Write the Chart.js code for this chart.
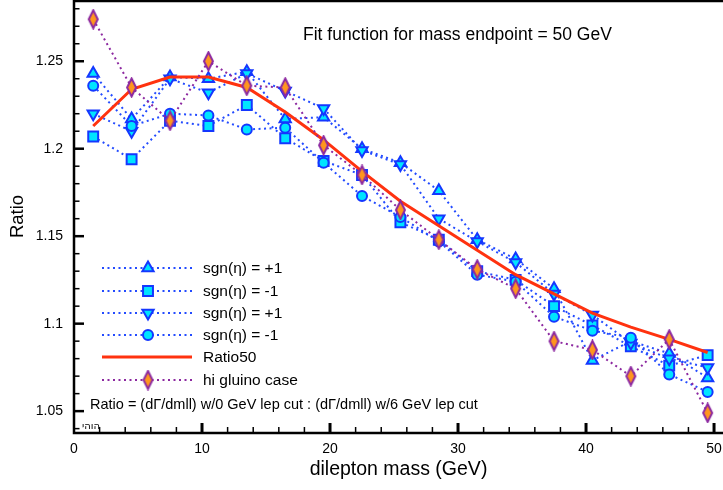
<!DOCTYPE html>
<html>
<head>
<meta charset="utf-8">
<script src="https://cdn.jsdelivr.net/npm/chart.js@4.4.1/dist/chart.umd.min.js"></script>
<style>
  html, body { margin: 0; padding: 0; background: #fff; }
  #wrap { width: 723px; height: 490px; }
</style>
</head>
<body>
<div id="wrap"><canvas id="ratioChart" width="723" height="490"></canvas></div>
<script>
// bin centres (GeV)
const massBins = [1.5, 4.5, 7.5, 10.5, 13.5, 16.5, 19.5, 22.5, 25.5, 28.5, 31.5, 34.5, 37.5, 40.5, 43.5, 46.5, 49.5];

// ratio values
const sgnPlusTri   = [1.243, 1.217, 1.241, 1.240, 1.244, 1.217, 1.218, 1.200, 1.192, 1.176, 1.148, 1.137, 1.120, 1.079, 1.090, 1.083, 1.069];
const sgnMinusSq   = [1.207, 1.194, 1.216, 1.213, 1.225, 1.206, 1.193, 1.185, 1.158, 1.148, 1.130, 1.125, 1.110, 1.099, 1.087, 1.076, 1.082];
const sgnPlusInv   = [1.220, 1.210, 1.240, 1.232, 1.243, 1.233, 1.223, 1.199, 1.191, 1.160, 1.147, 1.135, 1.117, 1.105, 1.089, 1.080, 1.075];
const sgnMinusCirc = [1.236, 1.213, 1.220, 1.219, 1.211, 1.212, 1.192, 1.173, 1.161, 1.147, 1.128, 1.124, 1.104, 1.096, 1.092, 1.071, 1.061];
const ratio50      = [1.213, 1.234, 1.241, 1.241, 1.235, 1.221, 1.205, 1.187, 1.170, 1.156, 1.142, 1.128, 1.117, 1.106, 1.098, 1.091, 1.0835];
const hiGluino     = [1.274, 1.235, 1.216, 1.250, 1.236, 1.235, 1.202, 1.185, 1.165, 1.148, 1.131, 1.120, 1.090, 1.085, 1.070, 1.091, 1.049];

const seriesNames = ['sgn(\u03B7) = +1', 'sgn(\u03B7) = -1', 'sgn(\u03B7) = +1', 'sgn(\u03B7) = -1', 'Ratio50', 'hi gluino case'];

const xTicks = [0, 10, 20, 30, 40, 50];
const yTicks = [1.05, 1.1, 1.15, 1.2, 1.25];
const yTickLabels = ['1.05', '1.1', '1.15', '1.2', '1.25'];

const titleText = 'Fit function for mass endpoint = 50 GeV';
const noteText = 'Ratio = (d\u0393/dmll) w/0 GeV lep cut : (d\u0393/dmll) w/6 GeV lep cut';
// small mark in the corner, glyphs laid out left to right as in the original
const cornerMark = '\u202D\u05D9\u05D4\u05D5\u05D4\u202C';

const FONT = '"Liberation Sans", Arial, Helvetica, sans-serif';
const CYAN = 'rgb(0,228,255)';
const BLUE = 'rgb(20,55,255)';
const DOTBLUE = 'rgb(35,75,255)';
const PURPLE = 'rgb(140,40,160)';

// tall diamond marker for the gluino series
function makeDiamond() {
    const c = document.createElement('canvas');
    c.width = 13; c.height = 21;
    const g = c.getContext('2d');
    g.beginPath();
    g.moveTo(6.5, 1.5); g.lineTo(11, 10.5); g.lineTo(6.5, 19.5); g.lineTo(2, 10.5); g.closePath();
    g.fillStyle = 'rgb(255,150,30)';
    g.fill();
    g.lineWidth = 2;
    g.strokeStyle = PURPLE;
    g.stroke();
    return c;
}

const toPoints = arr => arr.map((v, i) => ({ x: massBins[i], y: v }));

function blueSet(label, arr, style, radius, rot, order) {
    return {
        label: label,
        data: toPoints(arr),
        borderColor: DOTBLUE,
        borderWidth: 2,
        borderDash: [2, 3.5],
        pointStyle: style,
        pointRadius: radius,
        pointRotation: rot,
        pointBackgroundColor: CYAN,
        pointBorderColor: BLUE,
        pointBorderWidth: 2,
        fill: false,
        tension: 0,
        order: order
    };
}

const datasets = [
    blueSet(seriesNames[0], sgnPlusTri, 'triangle', 6.5, 0, 5),
    blueSet(seriesNames[1], sgnMinusSq, 'rect', 7, 0, 4),
    blueSet(seriesNames[2], sgnPlusInv, 'triangle', 6.5, 180, 3),
    blueSet(seriesNames[3], sgnMinusCirc, 'circle', 5, 0, 2),
    {
        label: seriesNames[4],
        data: toPoints(ratio50),
        borderColor: 'rgb(255,50,15)',
        borderWidth: 3,
        pointRadius: 0,
        fill: false,
        tension: 0,
        order: 1
    },
    {
        label: seriesNames[5],
        data: toPoints(hiGluino),
        borderColor: PURPLE,
        borderWidth: 2,
        borderDash: [2, 3.5],
        pointStyle: makeDiamond(),
        pointRadius: 10,
        fill: false,
        tension: 0,
        order: 0
    }
];

// legend rows inside the plot, y positions in pixels
const legendRows = [268, 291, 313, 335, 357, 380];

function drawMarker(ctx, ds, x, y) {
    if (!ds.pointRadius) return;
    ctx.save();
    ctx.fillStyle = ds.pointBackgroundColor || '#000';
    ctx.strokeStyle = ds.pointBorderColor || '#000';
    ctx.lineWidth = ds.pointBorderWidth || 0;
    ctx.setLineDash([]);
    Chart.helpers.drawPoint(ctx, {
        pointStyle: ds.pointStyle,
        radius: ds.pointRadius,
        rotation: ds.pointRotation || 0,
        borderWidth: ds.pointBorderWidth || 0
    }, x, y);
    ctx.restore();
}

const decorPlugin = {
    id: 'decor',
    afterDraw(chart) {
        const ctx = chart.ctx;
        const area = chart.chartArea;
        const xs = chart.scales.x;
        const ys = chart.scales.y;
        ctx.save();
        ctx.setLineDash([]);
        ctx.strokeStyle = '#000';

        // frame: left, bottom, top
        ctx.lineWidth = 2.5;
        ctx.beginPath();
        ctx.moveTo(area.left, area.top + 1);
        ctx.lineTo(area.right, area.top + 1);
        ctx.moveTo(area.left, area.top);
        ctx.lineTo(area.left, area.bottom);
        ctx.lineTo(area.right, area.bottom);
        ctx.stroke();

        // inward ticks on y
        for (let k = 104; k <= 128; k++) {
            const py = ys.getPixelForValue(k / 100);
            const major = k % 5 === 0;
            ctx.lineWidth = major ? 2.5 : 1.5;
            ctx.beginPath();
            ctx.moveTo(area.left, py);
            ctx.lineTo(area.left + (major ? 10 : 5.5), py);
            ctx.stroke();
        }
        // inward ticks on x
        for (let v = 2; v <= 50; v += 2) {
            const px = xs.getPixelForValue(v);
            const major = v % 10 === 0;
            ctx.lineWidth = major ? 3 : 1.5;
            ctx.beginPath();
            ctx.moveTo(px, area.bottom);
            ctx.lineTo(px, area.bottom - (major ? 10 : 6));
            ctx.stroke();
        }

        // legend
        ctx.textBaseline = 'middle';
        ctx.textAlign = 'left';
        ctx.font = '15.5px ' + FONT;
        datasets.forEach((ds, i) => {
            const y = legendRows[i];
            ctx.save();
            ctx.strokeStyle = ds.borderColor;
            ctx.lineWidth = ds.borderWidth;
            ctx.setLineDash(ds.borderDash || []);
            ctx.beginPath();
            ctx.moveTo(area.left + 28, y);
            ctx.lineTo(area.left + 118, y);
            ctx.stroke();
            ctx.restore();
            drawMarker(ctx, ds, area.left + 74, y);
            ctx.fillStyle = '#000';
            ctx.fillText(ds.label, area.left + 129, y + 1);
        });

        // title and note
        ctx.fillStyle = '#000';
        ctx.font = '17.5px ' + FONT;
        ctx.fillText(titleText, 303, 35);
        ctx.font = '14.5px ' + FONT;
        ctx.fillText(noteText, 90, 405);
        ctx.font = '10px "DejaVu Serif", "DejaVu Sans", serif';
        ctx.fillText(cornerMark, 82, 426);
        ctx.restore();
    }
};

new Chart(document.getElementById('ratioChart'), {
    type: 'line',
    data: { datasets: datasets },
    options: {
        responsive: false,
        animation: false,
        devicePixelRatio: 1,
        layout: { padding: 0, autoPadding: false },
        plugins: { legend: { display: false }, tooltip: { enabled: false } },
        scales: {
            x: {
                type: 'linear',
                min: 0,
                max: 50.7,
                grid: { display: false, drawTicks: false },
                border: { display: false },
                afterBuildTicks: s => { s.ticks = xTicks.map(v => ({ value: v })); },
                afterFit: s => { s.height = 57; s.paddingLeft = 0; s.paddingRight = 0; },
                ticks: {
                    padding: 8,
                    color: '#000',
                    font: { family: FONT, size: 14 },
                    maxRotation: 0,
                    callback: v => String(v)
                },
                title: {
                    display: true,
                    text: 'dilepton mass (GeV)',
                    color: '#000',
                    font: { family: FONT, size: 19.5 },
                    padding: { top: 0, bottom: 9 }
                }
            },
            y: {
                type: 'linear',
                min: 1.0375,
                max: 1.285,
                grid: { display: false, drawTicks: false },
                border: { display: false },
                afterBuildTicks: s => { s.ticks = yTicks.map(v => ({ value: v })); },
                afterFit: s => { s.width = 74; s.paddingTop = 0; s.paddingBottom = 0; },
                ticks: {
                    padding: 11,
                    color: '#000',
                    font: { family: FONT, size: 14 },
                    callback: (v, i) => yTickLabels[i]
                },
                title: {
                    display: true,
                    text: 'Ratio',
                    color: '#000',
                    font: { family: FONT, size: 18.5 },
                    padding: { top: 7, bottom: 0 }
                }
            }
        }
    },
    plugins: [decorPlugin]
});
</script>
</body>
</html>
